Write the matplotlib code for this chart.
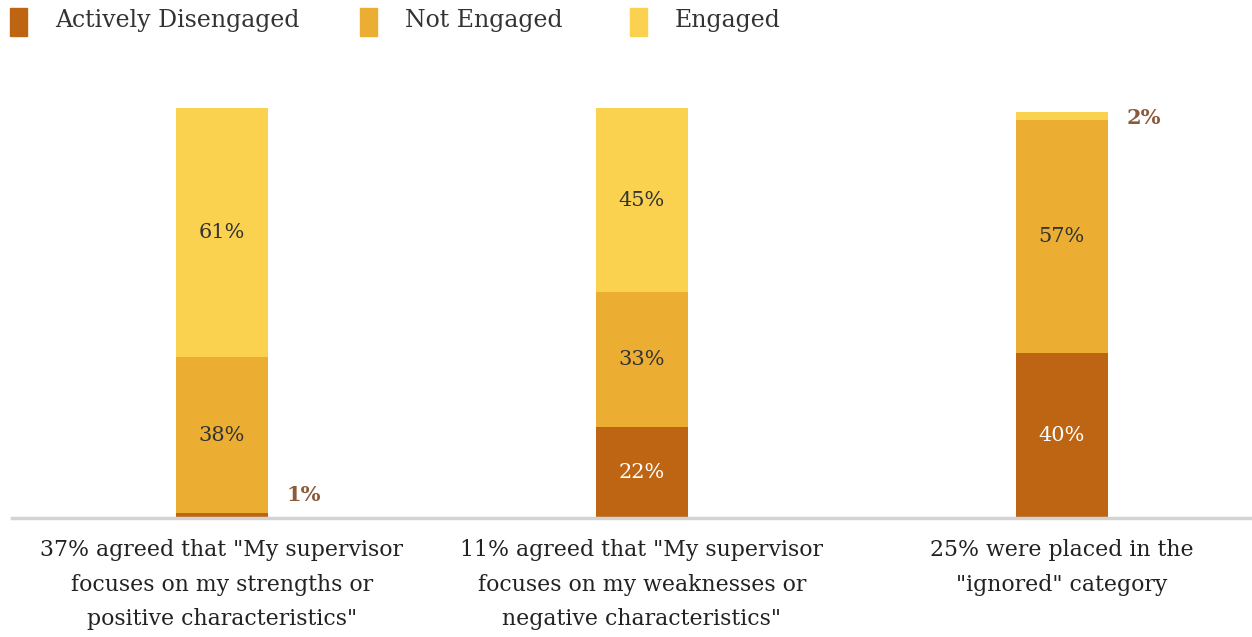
import matplotlib
matplotlib.use('Agg')
import matplotlib.pyplot as plt
from matplotlib.patches import Rectangle

categories = ['37% agreed that "My supervisor\nfocuses on my strengths or\npositive characteristics"',
              '11% agreed that "My supervisor\nfocuses on my weaknesses or\nnegative characteristics"',
              '25% were placed in the\n"ignored" category']
series = ['Actively Disengaged', 'Not Engaged', 'Engaged']
disengaged = [1, 22, 40]
not_engaged = [38, 33, 57]
engaged = [61, 45, 2]

colors = ['#BE6513', '#EBAE33', '#FAD250']
label_colors = ['white', '#333333', '#333333']
outside_color = '#8A5A3A'

plt.rcParams['font.family'] = ['DejaVu Serif']

W, H = 1252, 637
fig = plt.figure(figsize=(W / 100, H / 100), dpi=100)
ax = fig.add_axes([12 / W, 1 - 517 / H, 1238 / W, 409 / H])
ax.set_xlim(-0.5, 2.448)
ax.set_ylim(0, 100)
ax.axis('off')

width = 0.219
x = range(len(categories))
bottom = [0, 0, 0]
# small segments get their label beside the bar; nudge up/down per bar
side_nudge = {0: 4.5, 2: -1.5}
for vals, col, lc in zip([disengaged, not_engaged, engaged], colors, label_colors):
    ax.bar(x, vals, width, bottom=bottom, color=col, linewidth=0)
    for i, v in enumerate(vals):
        if v >= 5:
            ax.text(i, bottom[i] + v / 2, '%d%%' % v, ha='center', va='center',
                    fontsize=15, color=lc)
        else:
            ax.text(i + width / 2 + 0.045, bottom[i] + v + side_nudge.get(i, 2),
                    '%d%%' % v, ha='left', va='center',
                    fontsize=15, color=outside_color, fontweight='bold')
    bottom = [b + v for b, v in zip(bottom, vals)]

ax.axhline(-0.35, color='#D3D3D3', linewidth=2.5, clip_on=False)

for i, c in enumerate(categories):
    ax.text(i, -5.5, c, ha='center', va='top', fontsize=15.8, color='#222222',
            linespacing=1.72)

# legend, drawn by hand in pixel positions
sq_x = [10, 360, 630]
for sx, col, name in zip(sq_x, colors, series):
    fig.patches.append(Rectangle((sx / W, 1 - 36 / H), 17 / W, 28 / H,
                                 transform=fig.transFigure, color=col))
    fig.text((sx + 45) / W, 1 - 21 / H, name, ha='left', va='center',
             fontsize=17, color='#333333')

plt.savefig('out.png', dpi=100)
